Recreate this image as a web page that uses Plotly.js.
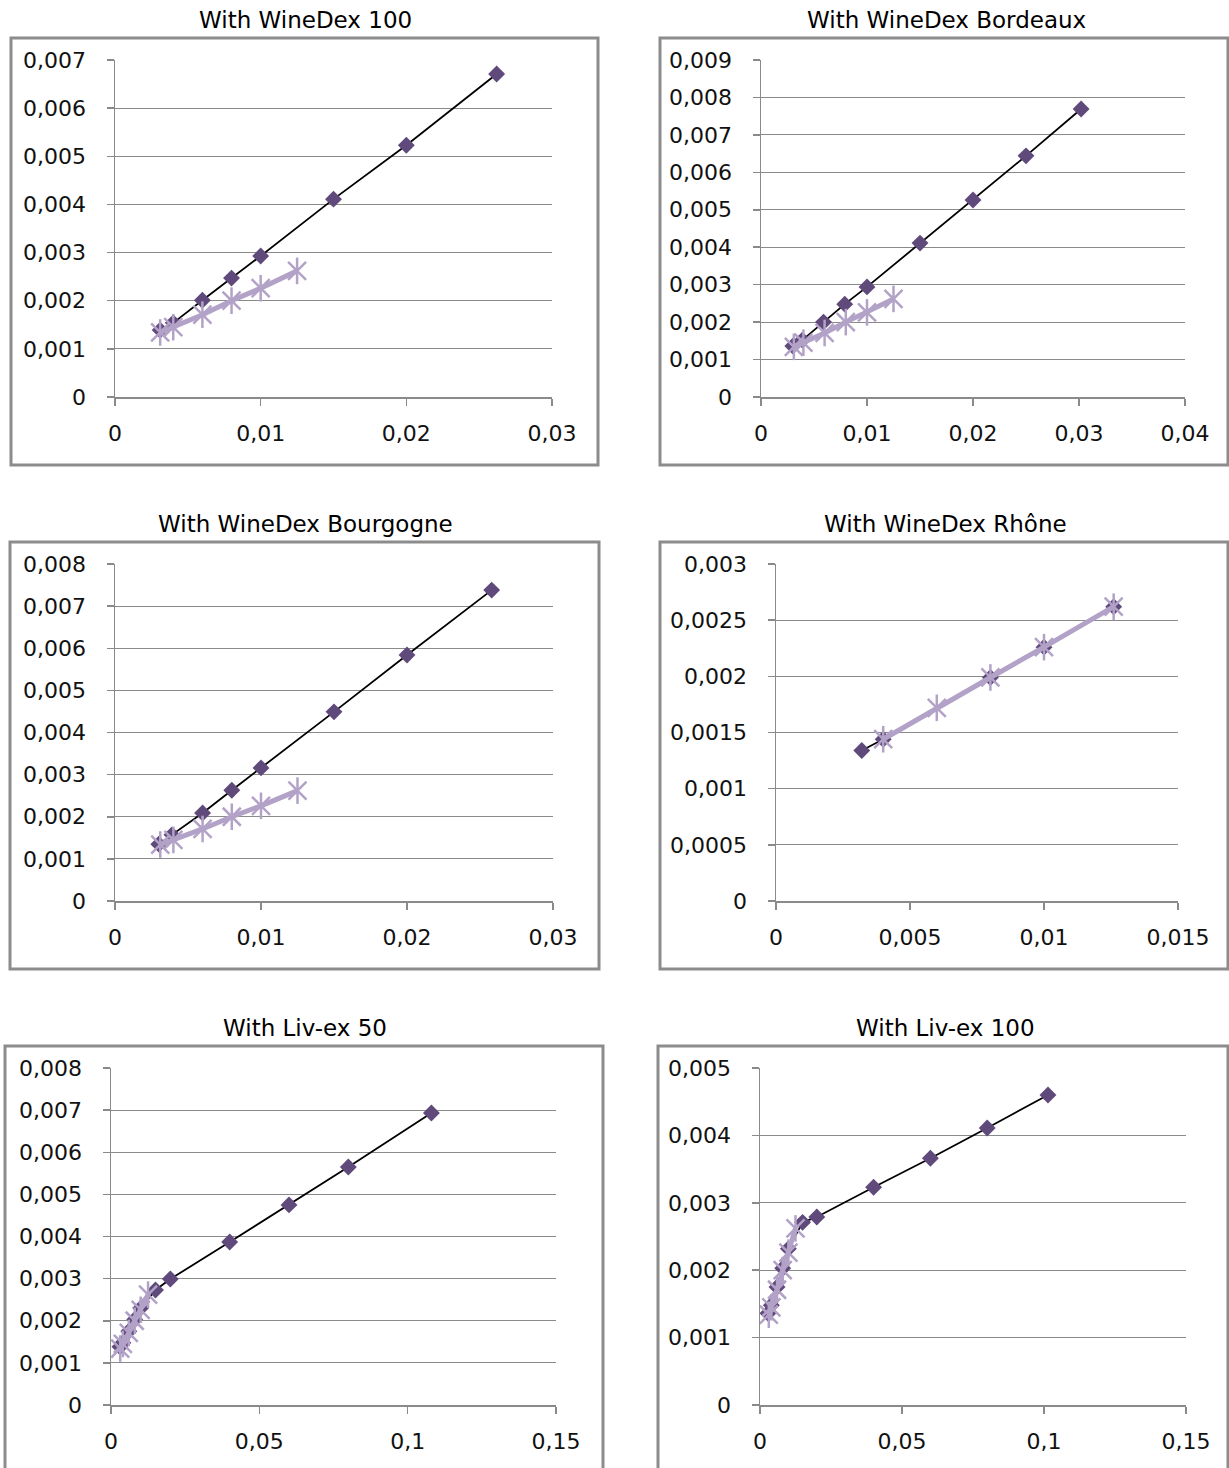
<!DOCTYPE html>
<html>
<head>
<meta charset="utf-8">
<script src="https://cdn.plot.ly/plotly-3.0.1.min.js"></script>
<style>html,body{margin:0;padding:0;background:#fff;}#chart{width:1229px;height:1468px;}</style>
</head>
<body>
<div id="chart"></div>
<script>
// ---------- DATA ----------
const titles = ["With WineDex 100", "With WineDex Bordeaux", "With WineDex Bourgogne", "With WineDex Rhône", "With Liv-ex 50", "With Liv-ex 100"];

// light series (portfolio without the index)
const baseX = [0.0031, 0.004, 0.006, 0.008, 0.01, 0.0125];
const baseY = [0.00134, 0.00145, 0.00171, 0.002, 0.00226, 0.00262];
const rhoneBaseX = [0.004, 0.006, 0.008, 0.01, 0.0126];
const rhoneBaseY = [0.00144, 0.00172, 0.00199, 0.00226, 0.00262];

// dark series (with the index)
const wd100X = [0.0031, 0.004, 0.006, 0.008, 0.01, 0.015, 0.02, 0.0262];
const wd100Y = [0.00139, 0.00154, 0.00201, 0.00247, 0.00293, 0.00411, 0.00523, 0.00671];
const bordX = [0.003, 0.0039, 0.0059, 0.0079, 0.01, 0.015, 0.02, 0.025, 0.0302];
const bordY = [0.00136, 0.00152, 0.002, 0.00248, 0.00294, 0.00411, 0.00526, 0.00644, 0.00769];
const bourX = [0.003, 0.0039, 0.006, 0.008, 0.01, 0.015, 0.02, 0.0258];
const bourY = [0.00135, 0.00157, 0.00209, 0.00263, 0.00316, 0.00449, 0.00584, 0.00738];
const rhoneX = [0.0032, 0.004, 0.008, 0.01, 0.0126];
const rhoneY = [0.00134, 0.00144, 0.00199, 0.00226, 0.00262];
const lx50X = [0.003, 0.004, 0.006, 0.008, 0.01, 0.015, 0.02, 0.04, 0.06, 0.08, 0.108];
const lx50Y = [0.00138, 0.00148, 0.00175, 0.00203, 0.0023, 0.00273, 0.00299, 0.00387, 0.00475, 0.00565, 0.00693];
const lx100X = [0.0028, 0.004, 0.006, 0.008, 0.01, 0.015, 0.02, 0.04, 0.06, 0.08, 0.1014];
const lx100Y = [0.00136, 0.00148, 0.00175, 0.00203, 0.00232, 0.00271, 0.00279, 0.00323, 0.00366, 0.00411, 0.0046];

// tick values and labels
const yTicks7 = [0, 0.001, 0.002, 0.003, 0.004, 0.005, 0.006, 0.007];
const yLabels7 = ["0", "0,001", "0,002", "0,003", "0,004", "0,005", "0,006", "0,007"];
const yTicks9 = [0, 0.001, 0.002, 0.003, 0.004, 0.005, 0.006, 0.007, 0.008, 0.009];
const yLabels9 = ["0", "0,001", "0,002", "0,003", "0,004", "0,005", "0,006", "0,007", "0,008", "0,009"];
const yTicks8 = [0, 0.001, 0.002, 0.003, 0.004, 0.005, 0.006, 0.007, 0.008];
const yLabels8 = ["0", "0,001", "0,002", "0,003", "0,004", "0,005", "0,006", "0,007", "0,008"];
const yTicksR = [0, 0.0005, 0.001, 0.0015, 0.002, 0.0025, 0.003];
const yLabelsR = ["0", "0,0005", "0,001", "0,0015", "0,002", "0,0025", "0,003"];
const yTicks5 = [0, 0.001, 0.002, 0.003, 0.004, 0.005];
const yLabels5 = ["0", "0,001", "0,002", "0,003", "0,004", "0,005"];
const xTicks3 = [0, 0.01, 0.02, 0.03];
const xLabels3 = ["0", "0,01", "0,02", "0,03"];
const xTicks4 = [0, 0.01, 0.02, 0.03, 0.04];
const xLabels4 = ["0", "0,01", "0,02", "0,03", "0,04"];
const xTicksR = [0, 0.005, 0.01, 0.015];
const xLabelsR = ["0", "0,005", "0,01", "0,015"];
const xTicks15 = [0, 0.05, 0.1, 0.15];
const xLabels15 = ["0", "0,05", "0,1", "0,15"];

// ---------- LAYOUT ----------
const W = 1229, H = 1468;
const panels = [
  {dx: wd100X, dy: wd100Y, lx: baseX, ly: baseY, xt: xTicks3, xl: xLabels3, yt: yTicks7, yl: yLabels7,
   plot: [115, 552, 60, 397], frame: [11, 598, 38, 465], tx: 305, ty: 20},
  {dx: bordX, dy: bordY, lx: baseX, ly: baseY, xt: xTicks4, xl: xLabels4, yt: yTicks9, yl: yLabels9,
   plot: [761, 1185, 60, 397], frame: [660, 1228, 38, 465], tx: 946, ty: 20},
  {dx: bourX, dy: bourY, lx: baseX, ly: baseY, xt: xTicks3, xl: xLabels3, yt: yTicks8, yl: yLabels8,
   plot: [115, 553, 564, 901], frame: [10, 599, 542, 969], tx: 305, ty: 524},
  {dx: rhoneX, dy: rhoneY, lx: rhoneBaseX, ly: rhoneBaseY, xt: xTicksR, xl: xLabelsR, yt: yTicksR, yl: yLabelsR,
   plot: [776, 1178, 564, 901], frame: [660, 1228, 542, 969], tx: 945, ty: 524},
  {dx: lx50X, dy: lx50Y, lx: baseX, ly: baseY, xt: xTicks15, xl: xLabels15, yt: yTicks8, yl: yLabels8,
   plot: [111, 556, 1068, 1405], frame: [5, 603, 1046, 1472], tx: 305, ty: 1028},
  {dx: lx100X, dy: lx100Y, lx: baseX, ly: baseY, xt: xTicks15, xl: xLabels15, yt: yTicks5, yl: yLabels5,
   plot: [760, 1186, 1068, 1405], frame: [658, 1228, 1046, 1472], tx: 945, ty: 1028}
];

const darkC = '#604a7b', lightC = '#b3a2c7', gridC = '#8a8a8a', frameC = '#8c8c8c';
const tickFont = {family: 'DejaVu Sans', size: 22, color: '#111'};

const data = [];
const layout = {
  width: W, height: H,
  margin: {l: 0, r: 0, t: 0, b: 0},
  paper_bgcolor: '#fff', plot_bgcolor: '#fff',
  showlegend: false,
  separators: ', ',
  shapes: [], annotations: []
};

panels.forEach((p, i) => {
  const n = i === 0 ? '' : String(i + 1);
  const xa = 'x' + n, ya = 'y' + n;
  const [px0, px1, pyt, pyb] = p.plot;
  layout['xaxis' + n] = {
    domain: [px0 / W, px1 / W], anchor: ya,
    range: [p.xt[0], p.xt[p.xt.length - 1]],
    tickvals: p.xt, ticktext: p.xl,
    showgrid: false, zeroline: false,
    showline: true, linecolor: gridC, linewidth: 1.5,
    ticks: 'outside', ticklen: 7, tickcolor: gridC, tickwidth: 1.5,
    tickfont: tickFont, ticklabelstandoff: 9, fixedrange: true
  };
  layout['yaxis' + n] = {
    domain: [1 - pyb / H, 1 - pyt / H], anchor: xa,
    range: [p.yt[0], p.yt[p.yt.length - 1]],
    tickvals: p.yt, ticktext: p.yl,
    showgrid: true, gridcolor: gridC, gridwidth: 1,
    zeroline: false,
    showline: true, linecolor: gridC, linewidth: 1.5,
    ticks: 'outside', ticklen: 7, tickcolor: gridC, tickwidth: 1.5,
    tickfont: tickFont, ticklabelstandoff: 16, fixedrange: true
  };
  const [fx0, fx1, fyt, fyb] = p.frame;
  layout.shapes.push({type: 'rect', xref: 'paper', yref: 'paper',
    x0: fx0 / W, x1: fx1 / W, y0: 1 - fyb / H, y1: 1 - fyt / H,
    line: {color: frameC, width: 3}, fillcolor: 'rgba(0,0,0,0)', layer: 'below'});
  layout.annotations.push({xref: 'paper', yref: 'paper', x: p.tx / W, y: 1 - p.ty / H,
    xanchor: 'center', yanchor: 'middle', showarrow: false, text: titles[i],
    font: {family: 'DejaVu Sans', size: 23, color: '#000'}});

  data.push({type: 'scatter', mode: 'lines+markers', x: p.dx, y: p.dy, xaxis: xa, yaxis: ya,
    line: {color: '#000', width: 1.8},
    marker: {symbol: 'diamond', size: 13, color: darkC, line: {width: 0}}, cliponaxis: false});
  data.push({type: 'scatter', mode: 'lines+markers', x: p.lx, y: p.ly, xaxis: xa, yaxis: ya,
    line: {color: lightC, width: 5},
    marker: {symbol: 'x-thin-open', size: 18, color: lightC, line: {color: lightC, width: 2.5}}, cliponaxis: false});
  data.push({type: 'scatter', mode: 'markers', x: p.lx, y: p.ly, xaxis: xa, yaxis: ya,
    marker: {symbol: 'line-ns-open', size: 19, color: lightC, line: {color: lightC, width: 2.5}}, cliponaxis: false});
});

Plotly.newPlot('chart', data, layout, {staticPlot: true, displayModeBar: false});
</script>
</body>
</html>
